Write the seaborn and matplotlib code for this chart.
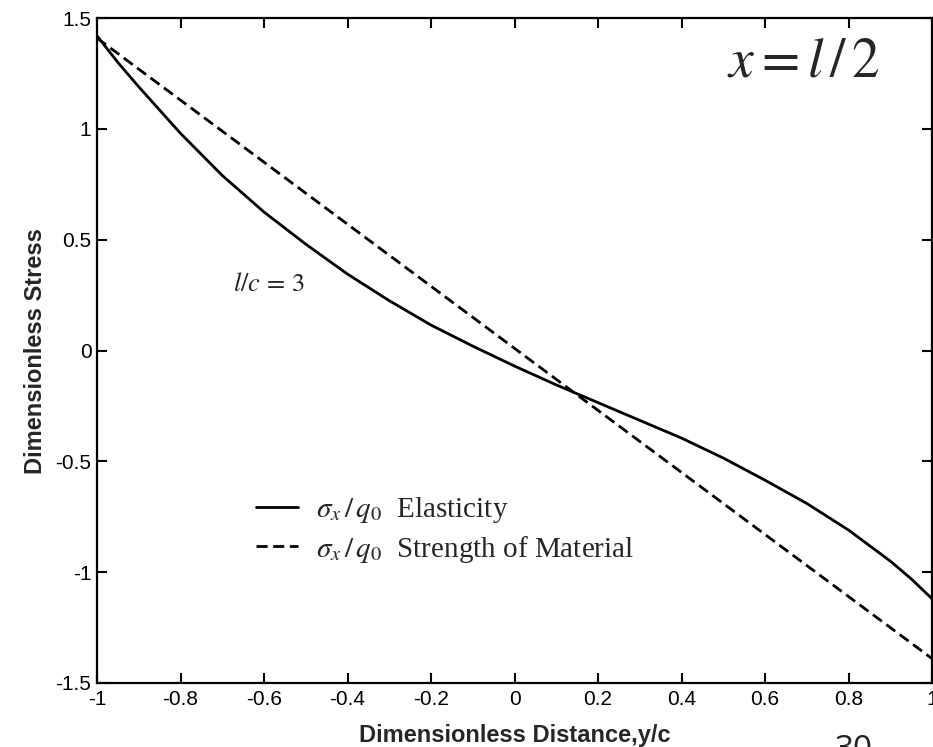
import numpy as np
import pandas as pd
import seaborn as sns
import matplotlib.pyplot as plt

# values
y_elastic = [-1.0, -0.95, -0.9, -0.8, -0.7, -0.6, -0.5, -0.4, -0.3, -0.2, -0.1,
             0.0, 0.1, 0.2, 0.3, 0.4, 0.5, 0.6, 0.7, 0.8, 0.9, 0.95, 1.0]
s_elastic = [1.42, 1.30, 1.19, 0.98, 0.79, 0.625, 0.48, 0.345, 0.225, 0.115, 0.02,
             -0.07, -0.155, -0.235, -0.315, -0.395, -0.485, -0.585, -0.69, -0.81, -0.95, -1.03, -1.12]
y_som = [-1.0, -0.5, 0.0, 0.5, 1.0]
s_som = [1.41, 0.71, 0.01, -0.69, -1.39]

x_ticks = [-1, -0.8, -0.6, -0.4, -0.2, 0, 0.2, 0.4, 0.6, 0.8, 1]
x_tick_labels = ['-1', '-0.8', '-0.6', '-0.4', '-0.2', '0', '0.2', '0.4', '0.6', '0.8', '1']
y_ticks = [-1.5, -1, -0.5, 0, 0.5, 1, 1.5]
y_tick_labels = ['-1.5', '-1', '-0.5', '0', '0.5', '1', '1.5']

elastic = pd.DataFrame({'y/c': y_elastic, 'stress': s_elastic})
som = pd.DataFrame({'y/c': y_som, 'stress': s_som})

sns.set_theme(style='ticks')
plt.rcParams['font.family'] = ['Liberation Sans', 'DejaVu Sans']
plt.rcParams['mathtext.fontset'] = 'stix'

fig = plt.figure(figsize=(9.33, 7.47), dpi=100)
ax = fig.add_axes([0.104, 0.0857, 0.895, 0.890])

sns.lineplot(data=elastic, x='y/c', y='stress', ax=ax, color='black', lw=2.0,
             label=r'$\sigma_x\,/\,q_0$  Elasticity')
sns.lineplot(data=som, x='y/c', y='stress', ax=ax, color='black', lw=2.0,
             label=r'$\sigma_x\,/\,q_0$  Strength of Material')
ax.lines[1].set_dashes((4, 2))

ax.set_xlim(-1, 1)
ax.set_ylim(-1.5, 1.5)
ax.set_xticks(x_ticks)
ax.set_xticklabels(x_tick_labels)
ax.set_yticks(y_ticks)
ax.set_yticklabels(y_tick_labels)
ax.tick_params(direction='in', length=7, width=1.5, labelsize=15, pad=4,
               top=True, right=True, colors='black')
ax.tick_params(axis='x', pad=5)
for sp in ax.spines.values():
    sp.set_visible(True)
    sp.set_linewidth(1.6)
    sp.set_color('black')

ax.set_xlabel('Dimensionless Distance,y/c', fontsize=17, fontweight='bold')
ax.set_ylabel('Dimensionless Stress', fontsize=17, fontweight='bold')
ax.xaxis.set_label_coords(0.5, -0.062)
ax.yaxis.set_label_coords(-0.060, 0.5)

leg = ax.legend(loc='upper left', bbox_to_anchor=(0.173, 0.305), frameon=False,
                prop={'family': 'Liberation Serif', 'size': 21},
                handlelength=1.45, handletextpad=0.6, labelspacing=0.3,
                borderpad=0)

ax.text(0.163, 0.6, r'$l/c\,=\,3$', transform=ax.transAxes, fontsize=19,
        ha='left', va='center')
fig.text(0.861, 0.917, r'$x=l\,/\,2$', fontsize=40, ha='center', va='center')
fig.text(0.915, 0.018, '30', fontsize=24, ha='center', va='top',
         family='Open Sans', color='#222222')

fig.savefig('out.png', dpi=100)
